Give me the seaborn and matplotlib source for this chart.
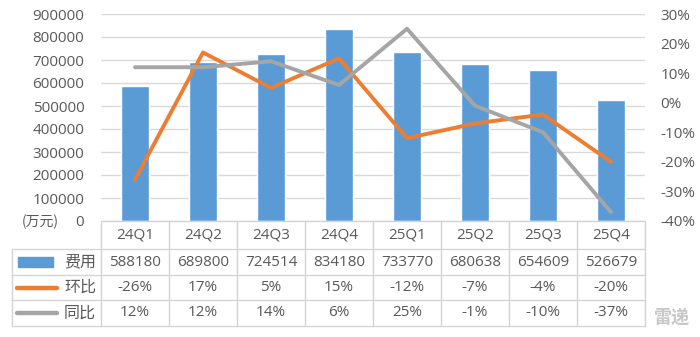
import numpy as np
import pandas as pd
import matplotlib
matplotlib.use("Agg")
import matplotlib.pyplot as plt
import matplotlib.transforms as mtransforms
from matplotlib.lines import Line2D
from matplotlib.patches import Rectangle
import seaborn as sns

# Quarterly expense data
quarters = ["24Q1", "24Q2", "24Q3", "24Q4", "25Q1", "25Q2", "25Q3", "25Q4"]
expense = [588180, 689800, 724514, 834180, 733770, 680638, 654609, 526679]
qoq = [-26, 17, 5, 15, -12, -7, -4, -20]      # 环比 (%)
yoy = [12, 12, 14, 6, 25, -1, -10, -37]       # 同比 (%)

left_ticks = list(range(0, 900001, 100000))
right_ticks = list(range(-40, 31, 10))

BLUE = "#5B9BD5"
ORANGE = "#ED7D31"
GRAY = "#A5A5A5"
GRID = "#D9D9D9"
BORDER = "#D4D4D4"
TEXT = "#595959"

sns.set_theme(style="white")
plt.rcParams["font.family"] = ["Open Sans", "Noto Sans CJK SC", "DejaVu Sans"]
CJK = ["Noto Sans CJK SC", "DejaVu Sans"]

W, H = 700, 337
fig = plt.figure(figsize=(W / 100, H / 100), dpi=100)

def fx(px):
    return px / W

def fy(py):
    return 1 - py / H

# plot area in pixels
pl, pr, pt, pb = 101, 645, 14, 221
ax = fig.add_axes([fx(pl), fy(pb), fx(pr - pl), fy(pt) - fy(pb)])

df = pd.DataFrame({"pos": np.arange(len(quarters)), "q": quarters,
                   "expense": expense, "qoq": qoq, "yoy": yoy})

sns.barplot(data=df, x="pos", y="expense", color=BLUE, width=0.4,
            saturation=1, ax=ax, native_scale=True)
ax.set_xlim(-0.5, len(quarters) - 0.5)
ax.set_ylim(0, 900000)
ax.set_yticks(left_ticks)
ax.set_yticklabels([str(v) for v in left_ticks])
ax.yaxis.grid(True, color=GRID, linewidth=1)
ax.set_axisbelow(True)
ax.set_xticks([])
ax.set_xlabel("")
ax.set_ylabel("")
for s in ax.spines.values():
    s.set_visible(False)
ax.tick_params(axis="y", length=0, pad=12, labelsize=11, labelcolor=TEXT)

ax2 = ax.twinx()
sns.lineplot(data=df, x="pos", y="qoq", color=ORANGE, linewidth=2.8, ax=ax2)
sns.lineplot(data=df, x="pos", y="yoy", color=GRAY, linewidth=2.8, ax=ax2)
ax2.set_ylim(-40, 30)
ax2.set_yticks(right_ticks)
ax2.set_yticklabels([f"{v}%" for v in right_ticks])
ax2.set_xlim(-0.5, len(quarters) - 0.5)
ax2.set_xlabel("")
ax2.set_ylabel("")
for s in ax2.spines.values():
    s.set_visible(False)
ax2.tick_params(axis="y", length=0, pad=11, labelsize=11, labelcolor=TEXT)

fig.text(fx(40), fy(222), "(万元)", ha="center", va="center", fontsize=10,
         color=TEXT, family=CJK)

# ---- data table below the axis ----
tr = mtransforms.blended_transform_factory(ax.transData, fig.transFigure)
n = len(quarters)
rows_y = [221, 249, 275, 300, 326]
tl = 12

def hline(y, x0, x1):
    fig.add_artist(Line2D([fx(x0), fx(x1)], [fy(y), fy(y)], color=BORDER, lw=1,
                          transform=fig.transFigure))

def vline(x, y0, y1, data=False):
    if data:
        fig.add_artist(Line2D([x, x], [fy(y0), fy(y1)], color=BORDER, lw=1, transform=tr))
    else:
        fig.add_artist(Line2D([fx(x), fx(x)], [fy(y0), fy(y1)], color=BORDER, lw=1,
                              transform=fig.transFigure))

hline(rows_y[0], pl, pr)
for y in rows_y[1:]:
    hline(y, tl, pr)
vline(tl, rows_y[1], rows_y[-1])
for i in range(n + 1):
    vline(i - 0.5, rows_y[0], rows_y[-1], data=True)

def mid(r):
    return fy((rows_y[r] + rows_y[r + 1]) / 2)

for i, q in enumerate(quarters):
    fig.text(i, mid(0), q, transform=tr, ha="center", va="center", fontsize=11, color=TEXT)
    fig.text(i, mid(1), str(expense[i]), transform=tr, ha="center", va="center",
             fontsize=11, color=TEXT)
    fig.text(i, mid(2), f"{qoq[i]}%", transform=tr, ha="center", va="center",
             fontsize=11, color=TEXT)
    fig.text(i, mid(3), f"{yoy[i]}%", transform=tr, ha="center", va="center",
             fontsize=11, color=TEXT)

# legend keys inside the first column
fig.add_artist(Rectangle((fx(18), mid(1) - 5 / H), fx(35), 10 / H, color=BLUE,
                         transform=fig.transFigure))
fig.add_artist(Line2D([fx(17), fx(57)], [mid(2), mid(2)], color=ORANGE, lw=3.2,
                      solid_capstyle="round", transform=fig.transFigure))
fig.add_artist(Line2D([fx(17), fx(57)], [mid(3), mid(3)], color=GRAY, lw=3.2,
                      solid_capstyle="round", transform=fig.transFigure))
for r, lab in zip([1, 2, 3], ["费用", "环比", "同比"]):
    fig.text(fx(80), mid(r), lab, ha="center", va="center", fontsize=11.5,
             color=TEXT, family=CJK)

# watermark
fig.text(fx(672), fy(317), "雷递", ha="center", va="center", fontsize=13,
         color="#C8C8C8", fontweight="bold", family=CJK)

fig.savefig("out.png", dpi=100)
